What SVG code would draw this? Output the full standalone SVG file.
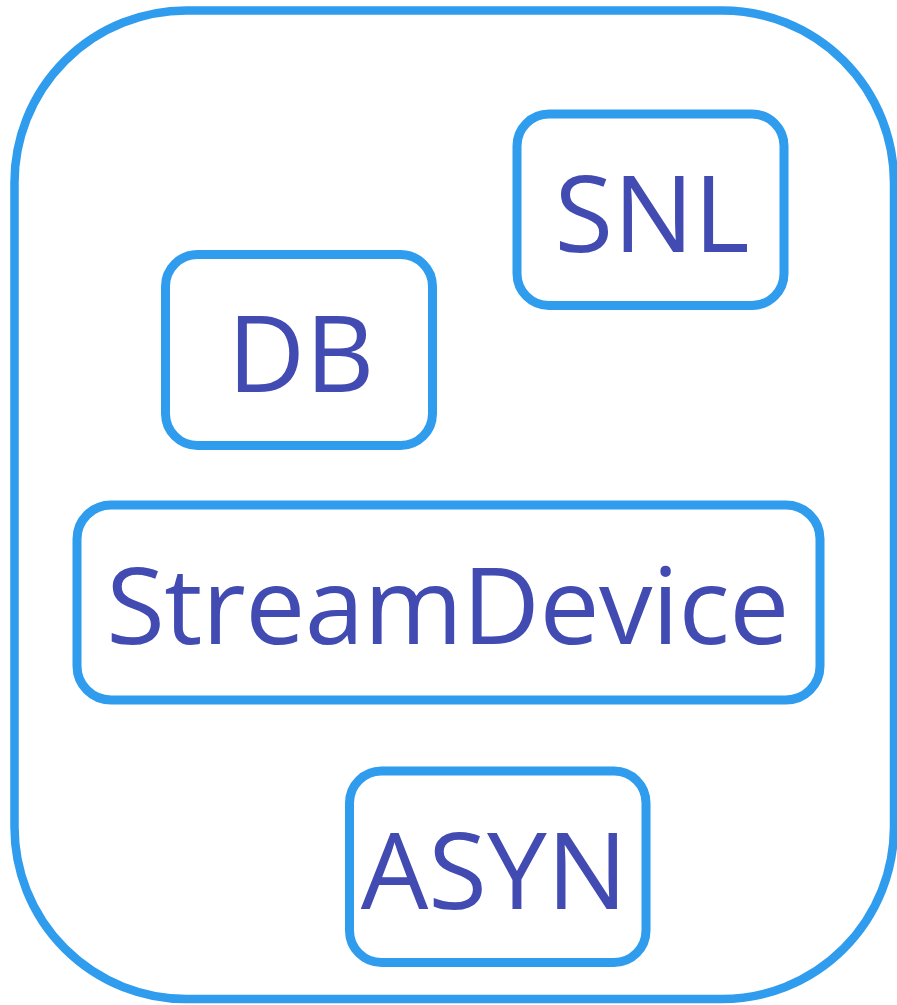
<svg xmlns="http://www.w3.org/2000/svg" width="897" height="1005" viewBox="0 0 897 1005">
  <style>
    .frame { fill: #ffffff; stroke: #2f9cee; stroke-width: 8.5; }
    .box { fill: #ffffff; stroke: #2f9cee; stroke-width: 9; }
    .label { font-family: "Open Sans", "Noto Sans", "Liberation Sans", sans-serif; font-size: 107px; fill: #414bb2; text-anchor: middle; }
    .wide { letter-spacing: -0.5px; }
  </style>
  <rect width="897" height="1005" fill="#ffffff"/>
  <g id="container">
    <rect class="frame" x="14.5" y="10.5" width="879.5" height="988.5" rx="172" ry="172"/>
  </g>
  <g id="snl">
    <rect class="box" x="517" y="114" width="267" height="191.5" rx="32" ry="32"/>
    <text class="label" x="652" y="251.7">SNL</text>
  </g>
  <g id="db">
    <rect class="box" x="165.5" y="254.5" width="267" height="191" rx="32" ry="32"/>
    <text class="label" x="301" y="391.7">DB</text>
  </g>
  <g id="streamdevice">
    <rect class="box" x="77" y="505" width="743" height="195" rx="34" ry="34"/>
    <text class="label wide" x="447.5" y="643.5">StreamDevice</text>
  </g>
  <g id="asyn">
    <rect class="box" x="349.5" y="771" width="296.5" height="191.5" rx="32" ry="32"/>
    <text class="label" x="494" y="909">ASYN</text>
  </g>
  <g id="connectors"></g>
</svg>
